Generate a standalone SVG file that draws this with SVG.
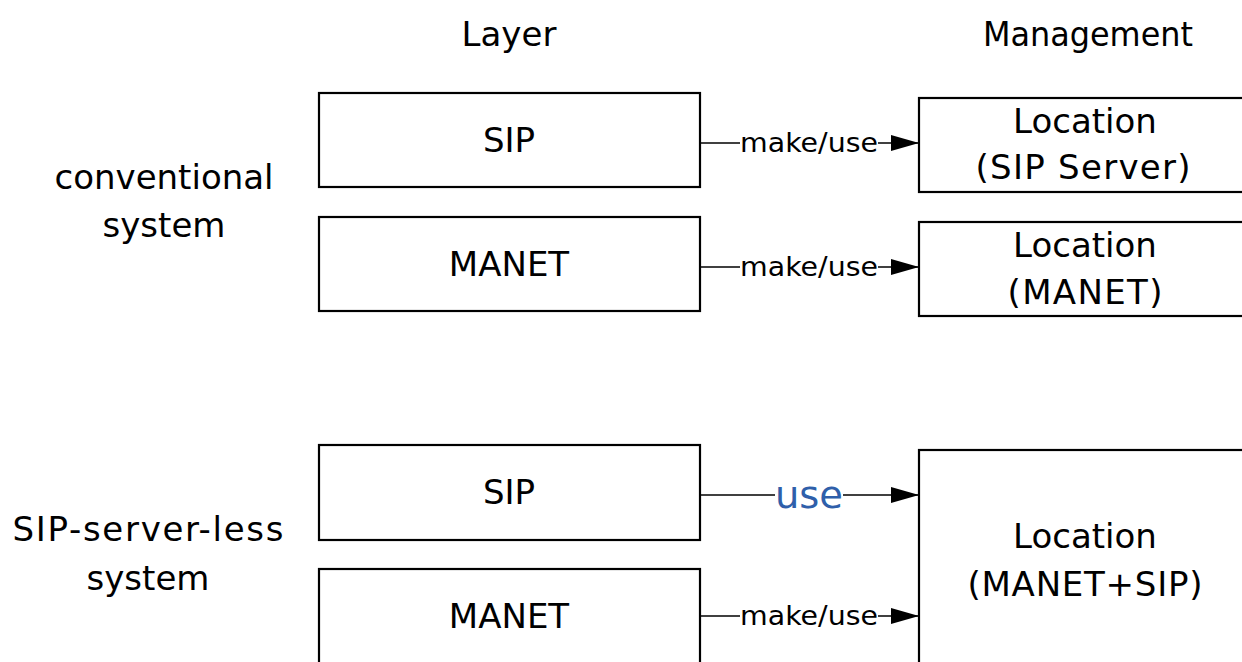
<svg xmlns="http://www.w3.org/2000/svg" width="1242" height="662" viewBox="0 0 1242 662">
  <defs>
    <marker id="arrow" viewBox="0 0 28 16" refX="28" refY="8" markerWidth="28" markerHeight="16" markerUnits="userSpaceOnUse" orient="auto">
      <path d="M0,0 L28,8 L0,16 Z" fill="#000"/>
    </marker>
    <style>
      .box { fill: #fff; stroke: #000; stroke-width: 2.2; }
      .t { font-family: "DejaVu Sans", "Liberation Sans", sans-serif; fill: #000; text-anchor: middle; }
      .big { font-size: 34px; }
      .lbl { font-size: 27px; }
      .edge { stroke: #000; stroke-width: 1.3; fill: none; }
      .bg { fill: #fff; }
    </style>
  </defs>

  <rect width="1242" height="662" fill="#fff"/>

  <!-- column headings -->
  <text class="t big" x="509" y="46">Layer</text>
  <text class="t big" x="1088" y="46" textLength="210" lengthAdjust="spacingAndGlyphs">Management</text>

  <!-- row captions -->
  <text class="t big" x="164" y="189">conventional</text>
  <text class="t big" x="164" y="237">system</text>
  <text class="t big" x="148" y="541" textLength="271" lengthAdjust="spacing">SIP-server-less</text>
  <text class="t big" x="148" y="590">system</text>

  <!-- conventional system -->
  <g id="sip-conv">
    <rect class="box" x="319" y="93" width="381" height="94"/>
    <text class="t big" x="509" y="152">SIP</text>
  </g>
  <g id="manet-conv">
    <rect class="box" x="319" y="217" width="381" height="94"/>
    <text class="t big" x="509" y="276">MANET</text>
  </g>
  <g id="loc-sip-server">
    <rect class="box" x="919" y="98" width="340" height="94"/>
    <text class="t big" x="1085" y="133">Location</text>
    <text class="t big" x="1083" y="179" textLength="215" lengthAdjust="spacing">(SIP Server)</text>
  </g>
  <g id="loc-manet">
    <rect class="box" x="919" y="222" width="340" height="94"/>
    <text class="t big" x="1085" y="257">Location</text>
    <text class="t big" x="1085" y="304" textLength="155" lengthAdjust="spacing">(MANET)</text>
  </g>

  <!-- SIP-server-less system -->
  <g id="sip-less">
    <rect class="box" x="319" y="445" width="381" height="95"/>
    <text class="t big" x="509" y="504">SIP</text>
  </g>
  <g id="manet-less">
    <rect class="box" x="319" y="569" width="381" height="110"/>
    <text class="t big" x="509" y="628">MANET</text>
  </g>
  <g id="loc-manet-sip">
    <rect class="box" x="919" y="450" width="340" height="230"/>
    <text class="t big" x="1085" y="548">Location</text>
    <text class="t big" x="1085" y="596" textLength="235" lengthAdjust="spacing">(MANET+SIP)</text>
  </g>

  <!-- connectors -->
  <g id="connectors">
    <path class="edge" d="M700,143 H919" marker-end="url(#arrow)"/>
    <rect class="bg" x="740" y="128" width="138" height="28"/>
    <text class="t lbl" x="809" y="152" textLength="138" lengthAdjust="spacingAndGlyphs">make/use</text>

    <path class="edge" d="M700,267 H919" marker-end="url(#arrow)"/>
    <rect class="bg" x="740" y="252" width="138" height="28"/>
    <text class="t lbl" x="809" y="276" textLength="138" lengthAdjust="spacingAndGlyphs">make/use</text>

    <path class="edge" d="M700,495 H919" marker-end="url(#arrow)"/>
    <rect class="bg" x="775" y="476" width="68" height="36"/>
    <text class="t" x="809" y="508" font-size="37" textLength="68" lengthAdjust="spacingAndGlyphs" style="fill:#2F5FAA">use</text>

    <path class="edge" d="M700,616 H919" marker-end="url(#arrow)"/>
    <rect class="bg" x="740" y="601" width="138" height="28"/>
    <text class="t lbl" x="809" y="625" textLength="138" lengthAdjust="spacingAndGlyphs">make/use</text>
  </g>
</svg>
